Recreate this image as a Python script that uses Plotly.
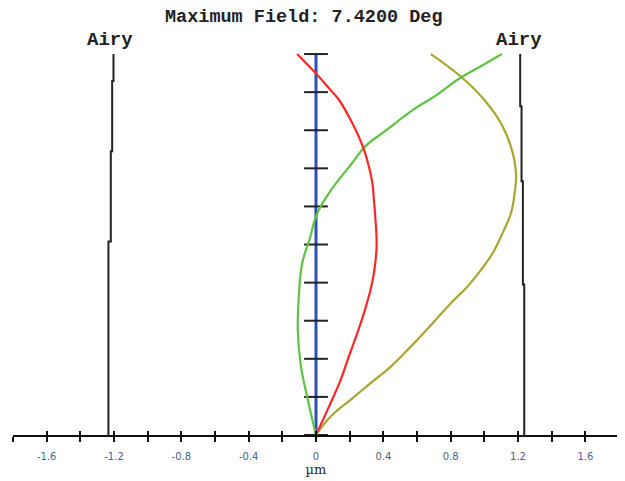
import plotly.graph_objects as go

# ---- data (relative field 0..1 vs lateral color, µm) ----
red_field = [0.0, 0.083, 0.144, 0.206, 0.267, 0.320, 0.381, 0.425, 0.495, 0.573, 0.617,
             0.661, 0.705, 0.749, 0.792, 0.836, 0.880, 0.911, 0.950, 1.0]
red_x = [0.0, 0.086, 0.146, 0.195, 0.245, 0.285, 0.324, 0.344, 0.360, 0.352, 0.344,
         0.335, 0.314, 0.285, 0.245, 0.195, 0.136, 0.076, -0.003, -0.112]

green_field = [0.0, 0.101, 0.188, 0.276, 0.363, 0.451, 0.521, 0.556, 0.591, 0.635, 0.670,
               0.714, 0.757, 0.801, 0.854, 0.893, 0.937, 0.972, 1.0]
green_x = [0.0, -0.053, -0.092, -0.108, -0.102, -0.082, -0.033, -0.013, 0.017, 0.077, 0.135,
           0.215, 0.291, 0.420, 0.578, 0.718, 0.856, 0.995, 1.104]

olive_field = [0.0, 0.048, 0.092, 0.136, 0.179, 0.232, 0.293, 0.346, 0.390, 0.433, 0.477,
               0.530, 0.582, 0.635, 0.687, 0.757, 0.819, 0.880, 0.941, 1.0]
olive_x = [0.0, 0.086, 0.205, 0.324, 0.443, 0.563, 0.692, 0.801, 0.900, 0.979, 1.049,
           1.108, 1.158, 1.180, 1.188, 1.158, 1.098, 0.999, 0.860, 0.682]

blue_field = [0.0, 1.0]
blue_x = [0.0, 0.0]

field_ticks = [0.0, 0.1, 0.2, 0.3, 0.4, 0.5, 0.6, 0.7, 0.8, 0.9, 1.0]

airy_r_field = [0.0, 0.395, 0.395, 0.666, 0.666, 0.863, 0.863, 1.0]
airy_r_x = [1.237, 1.237, 1.229, 1.229, 1.221, 1.221, 1.213, 1.213]
airy_l_field = [0.0, 0.508, 0.508, 0.745, 0.745, 0.929, 0.929, 1.0]
airy_l_x = [-1.233, -1.233, -1.219, -1.219, -1.211, -1.211, -1.203, -1.203]

x_tickvals = [-1.8, -1.6, -1.4, -1.2, -1.0, -0.8, -0.6, -0.4, -0.2, 0.0,
              0.2, 0.4, 0.6, 0.8, 1.0, 1.2, 1.4, 1.6, 1.8]
x_ticktext = ["", "-1.6", "", "-1.2", "", "-0.8", "", "-0.4", "", "0",
              "", "0.4", "", "0.8", "", "1.2", "", "1.6", ""]

title_text = "Maximum Field: 7.4200 Deg"
airy_text = "Airy"
x_label = "µm"

fig = go.Figure()

fig.add_trace(go.Scatter(x=airy_l_x, y=airy_l_field, mode="lines",
                         line=dict(color="#222222", width=2), cliponaxis=False, hoverinfo="skip"))
fig.add_trace(go.Scatter(x=airy_r_x, y=airy_r_field, mode="lines",
                         line=dict(color="#222222", width=2), cliponaxis=False, hoverinfo="skip"))

fig.add_trace(go.Scatter(x=blue_x, y=blue_field, mode="lines",
                         line=dict(color="#2f4fb8", width=3), cliponaxis=False))
fig.add_trace(go.Scatter(x=[0.0] * len(field_ticks), y=field_ticks, mode="markers",
                         marker=dict(symbol="line-ew", size=17,
                                     line=dict(color="#222222", width=2)),
                         cliponaxis=False))

fig.add_trace(go.Scatter(x=olive_x, y=olive_field, mode="lines", line_shape="spline",
                         line=dict(color="#a8a630", width=2.2, smoothing=1.2), cliponaxis=False))
fig.add_trace(go.Scatter(x=green_x, y=green_field, mode="lines", line_shape="spline",
                         line=dict(color="#5fc242", width=2.2, smoothing=1.2), cliponaxis=False))
fig.add_trace(go.Scatter(x=red_x, y=red_field, mode="lines", line_shape="spline",
                         line=dict(color="#ff2626", width=2.2, smoothing=1.2), cliponaxis=False))

# invisible trace so the overlay axis (upward half of the crossing ticks) is drawn
fig.add_trace(go.Scatter(x=[0.0], y=[0.0], mode="markers", marker=dict(opacity=0),
                         xaxis="x2", yaxis="y", hoverinfo="skip"))

# page has an 8px body margin: figure occupies 617x473 inside the 625x481 window
fig.update_layout(
    width=617, height=473,
    paper_bgcolor="white", plot_bgcolor="white",
    showlegend=False,
    margin=dict(l=5, r=6, t=27, b=46, autoexpand=False),
    xaxis=dict(range=[-1.8, 1.8], showgrid=False, zeroline=False, automargin=False,
               showline=True, linecolor="#111111", linewidth=1.5,
               ticks="outside", ticklen=5, tickwidth=1.5, tickcolor="#111111",
               tickvals=x_tickvals, ticktext=x_ticktext, ticklabelstandoff=6,
               tickfont=dict(family="DejaVu Sans", size=10, color="#4f5f80"),
               title=dict(text=x_label, standoff=3,
                          font=dict(family="DejaVu Serif", size=13, color="#2a2a2a"))),
    xaxis2=dict(range=[-1.8, 1.8], overlaying="x", anchor="y", side="bottom",
                showgrid=False, zeroline=False, showline=False, automargin=False,
                ticks="inside", ticklen=4, tickwidth=1.5, tickcolor="#111111",
                tickvals=x_tickvals, showticklabels=False),
    yaxis=dict(range=[0, 1.05], visible=False, fixedrange=True),
    annotations=[
        dict(text=title_text, xref="paper", yref="paper", x=0.480, y=1.044,
             showarrow=False, yanchor="middle",
             font=dict(family="Liberation Mono", size=18.5, color="#222222", weight="bold")),
        dict(text=airy_text, xref="x", yref="paper", x=-1.222, y=0.9875,
             showarrow=False, yanchor="middle",
             font=dict(family="Liberation Mono", size=19, color="#222222", weight="bold")),
        dict(text=airy_text, xref="x", yref="paper", x=1.204, y=0.9875,
             showarrow=False, yanchor="middle",
             font=dict(family="Liberation Mono", size=19, color="#222222", weight="bold")),
    ],
)

fig.write_html("out.html")
